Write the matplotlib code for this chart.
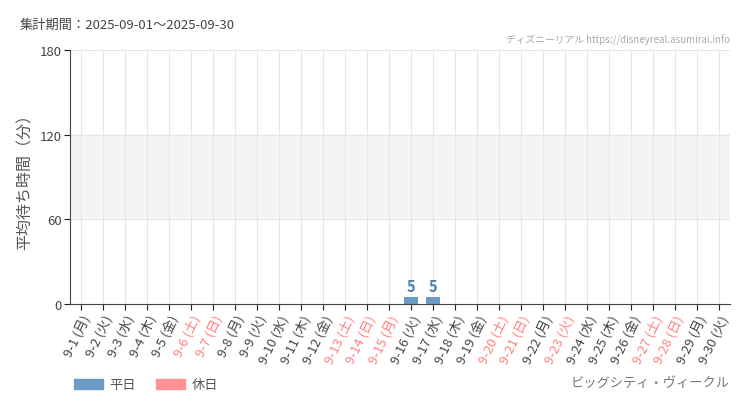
import matplotlib
matplotlib.use("Agg")
import matplotlib.pyplot as plt
from matplotlib.patches import Patch

plt.rcParams['font.family'] = ['Noto Sans CJK JP', 'DejaVu Sans']

# data
days = list(range(1, 31))
weekdays = ["月", "火", "水", "木", "金", "土", "日"]
holidays = [6, 7, 13, 14, 15, 20, 21, 23, 27, 28]
wait = [0, 0, 0, 0, 0, 0, 0, 0, 0, 0, 0, 0, 0, 0, 0,
        5, 5, 0, 0, 0, 0, 0, 0, 0, 0, 0, 0, 0, 0, 0]
yticks = [0, 60, 120, 180]

blue = "#6b9ac4"
pink = "#ff9393"
pink_text = "#ff8080"
dark = "#444444"

labels = [f"9-{d} ({weekdays[(d - 1) % 7]})" for d in days]
colors = [pink if d in holidays else blue for d in days]

fig = plt.figure(figsize=(7.5, 4.1), dpi=100)
ax = fig.add_axes([70 / 750, 1 - 305 / 410, 660 / 750, 254 / 410])

x = list(range(len(days)))
ax.axhspan(60, 120, color="#f4f4f4", zorder=0)
for xi in x:
    ax.axvline(xi, color="#e6e6e6", lw=0.8, zorder=0.5)
for yv in [60, 120, 180]:
    ax.axhline(yv, color="#e6e6e6", lw=0.8, zorder=0.5)

ax.bar(x, wait, width=0.68, color=colors, zorder=2)
for xi, v in zip(x, wait):
    if v > 0:
        ax.text(xi, v + 2, str(v), ha="center", va="bottom", fontsize=10.5,
                color="#4a7fb5", fontweight="bold")

ax.set_xlim(-0.5, len(days) - 0.5)
ax.set_ylim(0, 180)
ax.set_yticks(yticks)
ax.set_yticklabels([str(v) for v in yticks], fontsize=9.5, color=dark)
ax.set_xticks(x)
ax.set_xticklabels(labels, rotation=64, ha="right", va="top",
                   rotation_mode="anchor", fontsize=9.5)
for lbl, d in zip(ax.get_xticklabels(), days):
    lbl.set_color(pink_text if d in holidays else dark)

for s in ["top", "right"]:
    ax.spines[s].set_visible(False)
ax.spines["left"].set_color(dark)
ax.spines["bottom"].set_color(dark)
ax.tick_params(axis="both", length=4, color="#222222", pad=2)

ax.set_ylabel("平均待ち時間（分）", fontsize=11.5, color="#555555", labelpad=4)

fig.text(20 / 750, 1 - 25 / 410, "集計期間：2025-09-01～2025-09-30",
         fontsize=9.5, color=dark, va="center")
fig.text(730 / 750, 1 - 40 / 410, "ディズニーリアル https://disneyreal.asumirai.info",
         fontsize=7, color="#aaaaaa", va="center", ha="right")
fig.text(730 / 750, 1 - 384 / 410, "ビッグシティ・ヴィークル",
         fontsize=9.5, color="#777777", va="center", ha="right")

handles = [Patch(color=blue, label="平日"), Patch(color=pink, label="休日")]
fig.legend(handles=handles, loc="center left", bbox_to_anchor=(62 / 750, 1 - 386 / 410),
           ncol=2, frameon=False, fontsize=9.5, handlelength=2.2, handleheight=0.8,
           columnspacing=1.5, handletextpad=0.5, labelcolor="#555555")

fig.savefig("out.png", dpi=100)
